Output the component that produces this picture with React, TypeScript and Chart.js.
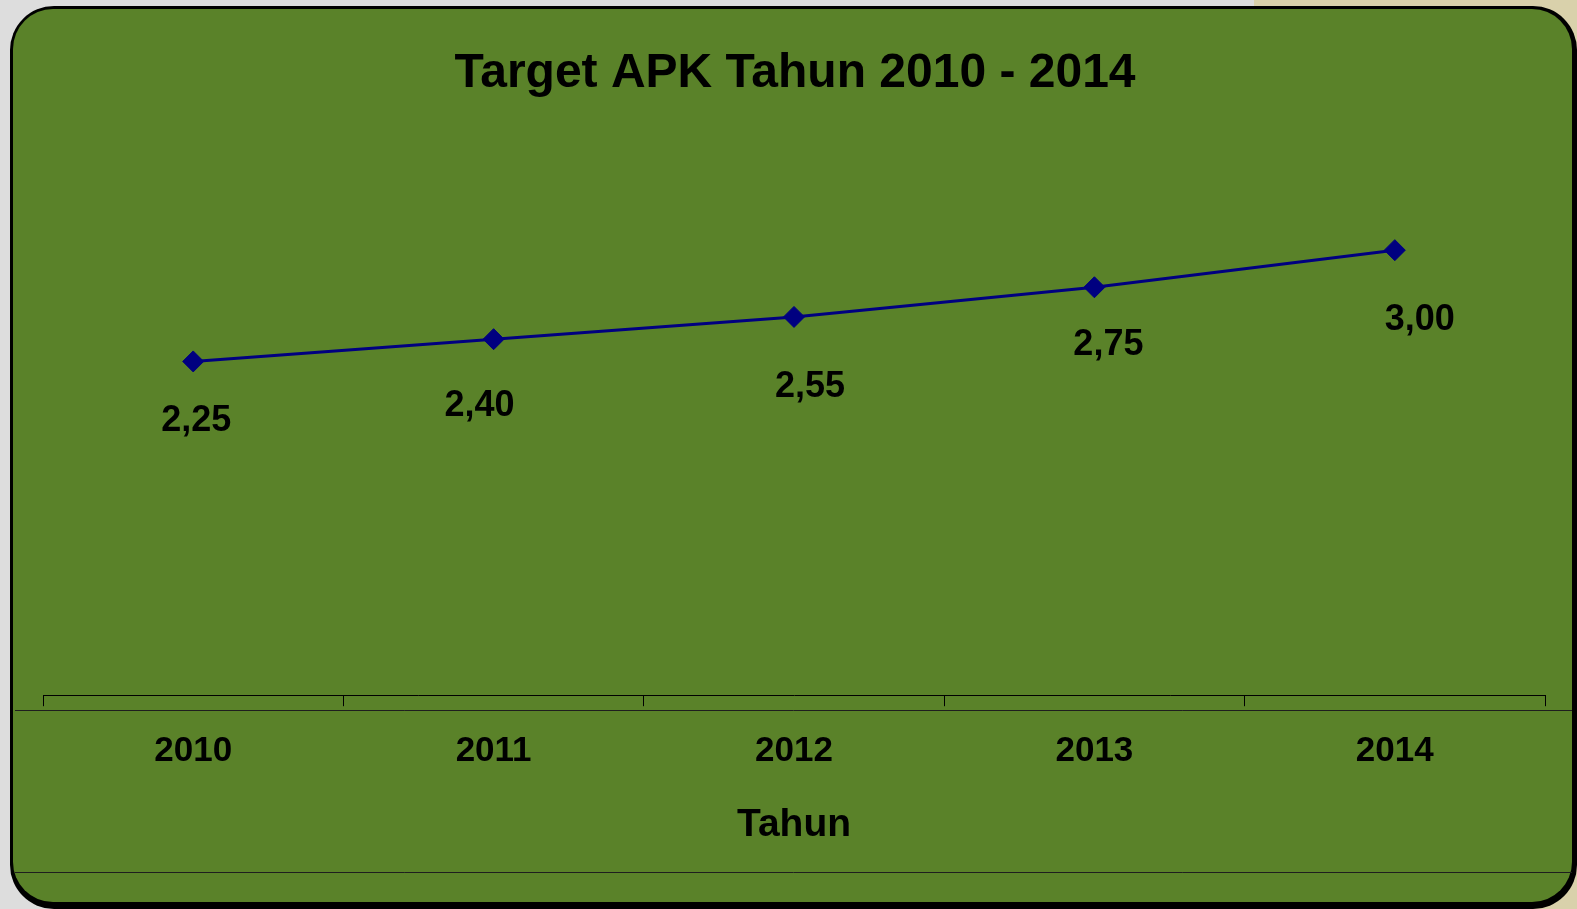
import React, { useEffect, useRef } from "react";
import { Chart, registerables } from "chart.js";

Chart.register(...registerables);

const titleText = "Target APK Tahun 2010 - 2014";
const axisTitle = "Tahun";
const categories = ["2010", "2011", "2012", "2013", "2014"];
const targetValues = [2.25, 2.4, 2.55, 2.75, 3.0];

// label placement relative to each point (style only)
const labelDx = [3, -14, 16, 14, 25];
const labelDy = [60, 67, 70, 58, 70];

const FONT = "'Liberation Sans', Arial, sans-serif";
const GREEN = "#5a8229";
const NAVY = "#000080";

function roundRect(ctx: CanvasRenderingContext2D, x: number, y: number, w: number, h: number, r: number) {
  ctx.beginPath();
  ctx.moveTo(x + r, y);
  ctx.lineTo(x + w - r, y);
  ctx.arcTo(x + w, y, x + w, y + r, r);
  ctx.lineTo(x + w, y + h - r);
  ctx.arcTo(x + w, y + h, x + w - r, y + h, r);
  ctx.lineTo(x + r, y + h);
  ctx.arcTo(x, y + h, x, y + h - r, r);
  ctx.lineTo(x, y + r);
  ctx.arcTo(x, y, x + r, y, r);
  ctx.closePath();
}

const framePlugin = {
  id: "frame",
  beforeDraw(chart: any) {
    const ctx: CanvasRenderingContext2D = chart.ctx;
    const W = chart.width;
    const H = chart.height;
    ctx.save();
    ctx.fillStyle = "#dddddd";
    ctx.fillRect(0, 0, W, H);
    ctx.fillStyle = "#d9d1ab";
    ctx.fillRect(1254, 0, W - 1254, H);
    ctx.fillStyle = "#000000";
    roundRect(ctx, 10, 6, 1567, 903, 44);
    ctx.fill();
    ctx.fillStyle = GREEN;
    roundRect(ctx, 13, 9, 1559, 893, 40);
    ctx.fill();
    // extra horizontal rules
    ctx.strokeStyle = "#1e1e1e";
    ctx.lineWidth = 1;
    ctx.beginPath();
    ctx.moveTo(15, 710.5);
    ctx.lineTo(1572, 710.5);
    ctx.moveTo(15, 872.5);
    ctx.lineTo(1572, 872.5);
    ctx.stroke();
    // title
    ctx.fillStyle = "#000000";
    ctx.font = `bold 48px ${FONT}`;
    ctx.textAlign = "center";
    ctx.textBaseline = "middle";
    ctx.fillText(titleText, 795, 74);
    ctx.restore();
  },
  afterDatasetsDraw(chart: any) {
    const ctx: CanvasRenderingContext2D = chart.ctx;
    const meta = chart.getDatasetMeta(0);
    ctx.save();
    ctx.fillStyle = "#000000";
    ctx.font = `bold 36px ${FONT}`;
    ctx.textAlign = "center";
    ctx.textBaseline = "middle";
    meta.data.forEach((pt: any, i: number) => {
      const txt = targetValues[i].toFixed(2).replace(".", ",");
      ctx.fillText(txt, pt.x + labelDx[i], pt.y + labelDy[i]);
    });
    ctx.restore();
  },
};

export default function App() {
  const ref = useRef<HTMLCanvasElement | null>(null);
  useEffect(() => {
    if (!ref.current) return;
    const chart = new Chart(ref.current, {
      type: "line",
      data: {
        labels: categories,
        datasets: [
          {
            label: "Target APK",
            data: targetValues,
            borderColor: NAVY,
            backgroundColor: NAVY,
            borderWidth: 3,
            pointStyle: "rectRot",
            pointRadius: 10.5,
            pointBorderWidth: 1,
            pointBackgroundColor: NAVY,
            pointBorderColor: NAVY,
            tension: 0,
          },
        ],
      },
      options: {
        animation: false,
        responsive: false,
        layout: { padding: { left: 43, right: 32, top: 176, bottom: 60 } },
        plugins: {
          legend: { display: false },
          title: { display: false },
          tooltip: { enabled: false },
        },
        scales: {
          x: {
            offset: true,
            grid: {
              offset: true,
              drawOnChartArea: false,
              drawTicks: true,
              tickLength: 11,
              color: "#000000",
              lineWidth: 1,
            },
            border: { display: true, color: "#000000", width: 1 },
            ticks: {
              color: "#000000",
              font: { family: FONT, size: 35, weight: "bold" },
              padding: 24,
            },
            title: {
              display: true,
              text: axisTitle,
              color: "#000000",
              font: { family: FONT, size: 39, weight: "bold" },
              padding: { top: 6, bottom: 0 },
            },
          },
          y: {
            display: false,
            min: 0,
            max: 3.5,
          },
        },
      },
      plugins: [framePlugin],
    });
    return () => chart.destroy();
  }, []);
  return (
    <div style={{ position: "fixed", left: 0, top: 0, width: 1577, height: 909 }}>
      <canvas ref={ref} width={1577} height={909} style={{ display: "block" }} />
    </div>
  );
}
